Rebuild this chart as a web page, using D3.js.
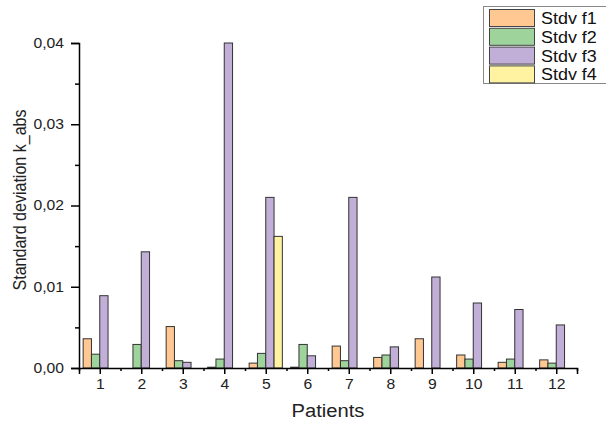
<!DOCTYPE html>
<html>
<head>
<meta charset="utf-8">
<script src="https://cdn.jsdelivr.net/npm/d3@7"></script>
<style>
  body { margin: 0; background: #fff; }
  svg { font-family: "Liberation Sans", Arial, sans-serif; display: block; }
</style>
</head>
<body>
<svg id="chart" width="606" height="423"></svg>
<script>
// data
const patients = [1, 2, 3, 4, 5, 6, 7, 8, 9, 10, 11, 12];
const stdvF1 = [0.0036, 0, 0.0051, 0.0001, 0.0006, 0.0001, 0.0027, 0.0013, 0.0036, 0.0016, 0.0007, 0.0010];
const stdvF2 = [0.0017, 0.0029, 0.0009, 0.0011, 0.0018, 0.0029, 0.0009, 0.0016, 0, 0.0011, 0.0011, 0.0006];
const stdvF3 = [0.0089, 0.0143, 0.0007, 0.0400, 0.0210, 0.0015, 0.0210, 0.0026, 0.0112, 0.0080, 0.0072, 0.0053];
const stdvF4 = [0, 0, 0, 0, 0.0162, 0, 0, 0, 0, 0, 0, 0];
const seriesNames = ["Stdv f1", "Stdv f2", "Stdv f3", "Stdv f4"];
const yTicks = [0, 0.01, 0.02, 0.03, 0.04];

const colors = ["#ffc893", "#9ed49c", "#c1afd7", "#fff3a1"];
const series = [stdvF1, stdvF2, stdvF3, stdvF4];

const svg = d3.select("#chart");
const mLeft = 79, mRight = 577, mTop = 43, mBottom = 368;

const x = d3.scaleLinear().domain([0.5, 12.5]).range([mLeft, mRight]);
const y = d3.scaleLinear().domain([0, 0.04]).range([mBottom, mTop]);
const step = x(2) - x(1);
const inner = d3.scaleBand().domain(d3.range(4)).range([-0.4 * step, 0.4 * step]);

// bars
series.forEach((vals, s) => {
  svg.append("g")
    .selectAll("rect")
    .data(vals.map((v, i) => ({ p: patients[i], v })).filter(d => d.v > 0))
    .enter()
    .append("rect")
    .attr("x", d => x(d.p) + inner(s))
    .attr("y", d => y(d.v))
    .attr("width", inner.bandwidth())
    .attr("height", d => y(0) - y(d.v))
    .attr("fill", colors[s])
    .attr("stroke", "#333")
    .attr("stroke-width", 1);
});

// y axis
svg.append("g")
  .attr("transform", "translate(" + mLeft + ",0)")
  .call(d3.axisLeft(y).tickValues(yTicks).tickSize(8).tickPadding(7)
    .tickFormat(d => d3.format(".2f")(d).replace(".", ",")));
svg.append("g")
  .attr("transform", "translate(" + mLeft + ",0)")
  .call(d3.axisLeft(y).tickValues([0.005, 0.015, 0.025, 0.035]).tickSize(4).tickFormat(""))
  .select(".domain").remove();

// x axis
svg.append("g")
  .attr("transform", "translate(0," + mBottom + ")")
  .call(d3.axisBottom(x).tickValues(patients).tickSize(6).tickPadding(5).tickFormat(d3.format("d")));
svg.append("g")
  .attr("transform", "translate(0," + mBottom + ")")
  .call(d3.axisBottom(x).tickValues(patients.map(p => p - 0.5).concat([12.5])).tickSize(3).tickFormat(""))
  .select(".domain").remove();

svg.selectAll(".domain").attr("stroke", "#000").attr("stroke-width", 1.5);
svg.selectAll(".tick line").attr("stroke", "#000").attr("stroke-width", 1.5);
svg.selectAll(".tick text").attr("font-size", 14).attr("fill", "#222")
  .attr("font-family", "Liberation Sans, Arial, sans-serif")
  .classed("wide", true);

// axis titles
svg.append("text")
  .attr("class", "wide")
  .attr("x", 328).attr("y", 417)
  .attr("text-anchor", "middle")
  .attr("font-size", 18).attr("fill", "#222")
  .text("Patients");
svg.append("text")
  .attr("transform", "translate(26,200) rotate(-90)")
  .attr("text-anchor", "middle")
  .attr("font-size", 18).attr("fill", "#222")
  .attr("textLength", 181).attr("lengthAdjust", "spacingAndGlyphs")
  .text("Standard deviation k_abs");

// legend
const legend = svg.append("g");
legend.append("rect")
  .attr("x", 483.5).attr("y", 6.5).attr("width", 130).attr("height", 77)
  .attr("fill", "#fff").attr("stroke", "#888");
seriesNames.forEach((name, i) => {
  legend.append("rect")
    .attr("x", 489.5).attr("y", 9.5 + i * 18.8).attr("width", 45).attr("height", 17)
    .attr("fill", colors[i]).attr("stroke", "#444");
  legend.append("text")
    .attr("class", "wide")
    .attr("x", 541).attr("y", 24 + i * 18.8)
    .attr("font-size", 16).attr("fill", "#111")
    .text(name);
});

// the source image is a bit wider than tall, stretch the horizontal text to match
svg.selectAll("text.wide").each(function () {
  const w = this.getComputedTextLength();
  d3.select(this).attr("textLength", w * 1.12).attr("lengthAdjust", "spacingAndGlyphs");
});
</script>
</body>
</html>
